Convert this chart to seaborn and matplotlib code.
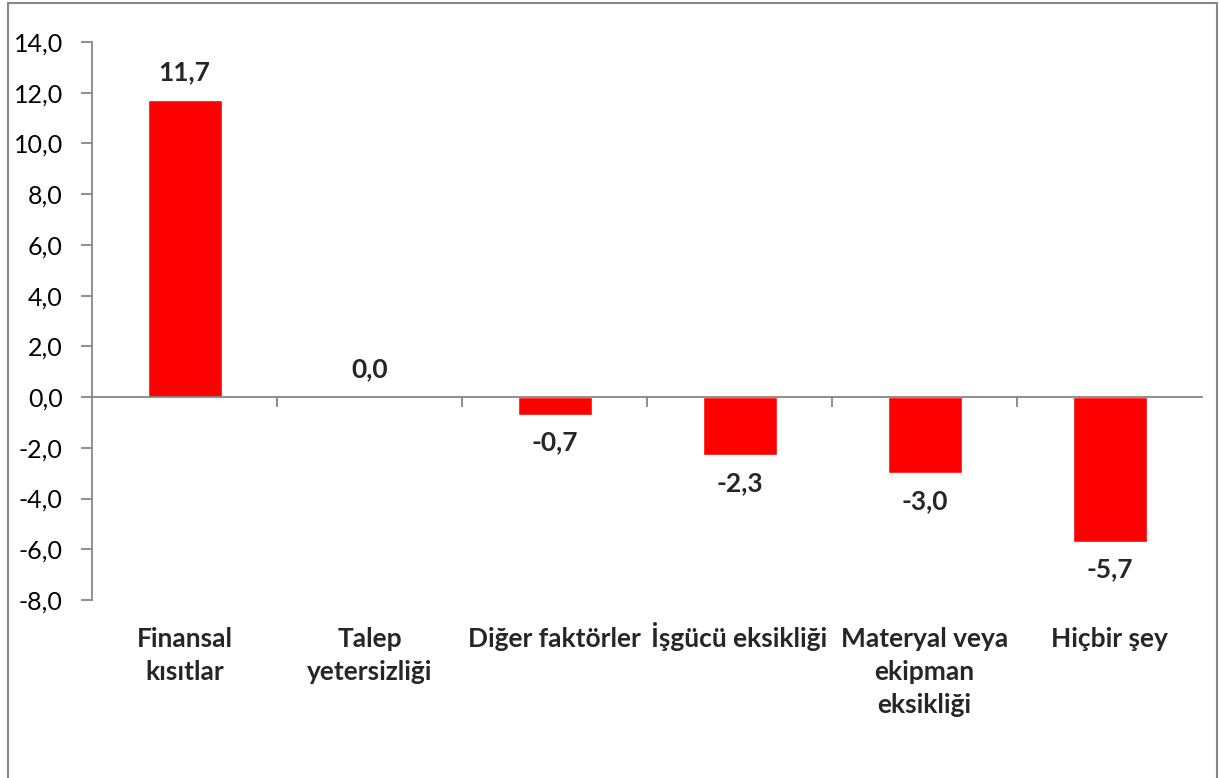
import matplotlib
matplotlib.use('Agg')
import matplotlib.pyplot as plt
import matplotlib.transforms as mtransforms
from matplotlib.lines import Line2D
import seaborn as sns
import pandas as pd

# Data
categories = ['Finansal\nkısıtlar', 'Talep\nyetersizliği', 'Diğer faktörler',
              'İşgücü eksikliği', 'Materyal veya\nekipman\neksikliği', 'Hiçbir şey']
values = [11.7, 0.0, -0.7, -2.3, -3.0, -5.7]
yticks = [-8, -6, -4, -2, 0, 2, 4, 6, 8, 10, 12, 14]

df = pd.DataFrame({'cat': categories, 'val': values})

sns.set_theme(style='white')
plt.rcParams['font.family'] = ['Lato', 'DejaVu Sans']

fig = plt.figure(figsize=(12.19, 7.78), dpi=100)
ax = fig.add_axes([92 / 1219, 1 - 600 / 778, 1110 / 1219, 558 / 778])

sns.barplot(data=df, x='cat', y='val', color='#FF0000', saturation=1,
            width=0.4, ax=ax)

gray = '#868686'
ax.set_xlim(-0.5, len(categories) - 0.5)
ax.set_ylim(-8, 14)
ax.set_yticks(yticks)
ax.set_yticklabels([f'{t:.1f}'.replace('.', ',') for t in yticks], fontsize=18)
ax.set_xlabel('')
ax.set_ylabel('')

for s in ['top', 'right']:
    ax.spines[s].set_visible(False)
ax.spines['left'].set_color(gray)
ax.spines['left'].set_linewidth(1.3)
ax.spines['bottom'].set_position(('data', 0))
ax.spines['bottom'].set_color(gray)
ax.spines['bottom'].set_linewidth(1.3)

ax.set_xticks([i + 0.5 for i in range(len(categories) - 1)])
ax.set_xticklabels([])
ax.tick_params(axis='x', direction='out', length=7, width=1.3, color=gray, bottom=True)
ax.tick_params(axis='y', direction='out', length=8, width=1.3, color=gray, left=True,
               pad=13, labelcolor='black')

# category labels below the plot area, one text per line
trans = mtransforms.blended_transform_factory(ax.transData, ax.transAxes)
for i, c in enumerate(categories):
    for k, line in enumerate(c.split('\n')):
        ax.text(i, -(47 + 33 * k) / 558, line, transform=trans, ha='center',
                va='baseline', fontsize=19, fontweight='bold')

# value labels
for i, v in enumerate(values):
    off = 20 if v >= 0 else -20
    ax.annotate(f'{v:.1f}'.replace('.', ','), (i, v), xytext=(0, off),
                textcoords='offset points', ha='center', va='center',
                fontsize=19, fontweight='bold')

# chart border
W, H = 1219, 778
for xs, ys in [((8 / W, 8 / W), (0, 1 - 3 / H)),
               ((8 / W, 1217 / W), (1 - 3 / H, 1 - 3 / H)),
               ((1217 / W, 1217 / W), (0, 1 - 3 / H))]:
    fig.add_artist(Line2D(xs, ys, color=gray, linewidth=1.5))

fig.savefig('out.png', dpi=100)
